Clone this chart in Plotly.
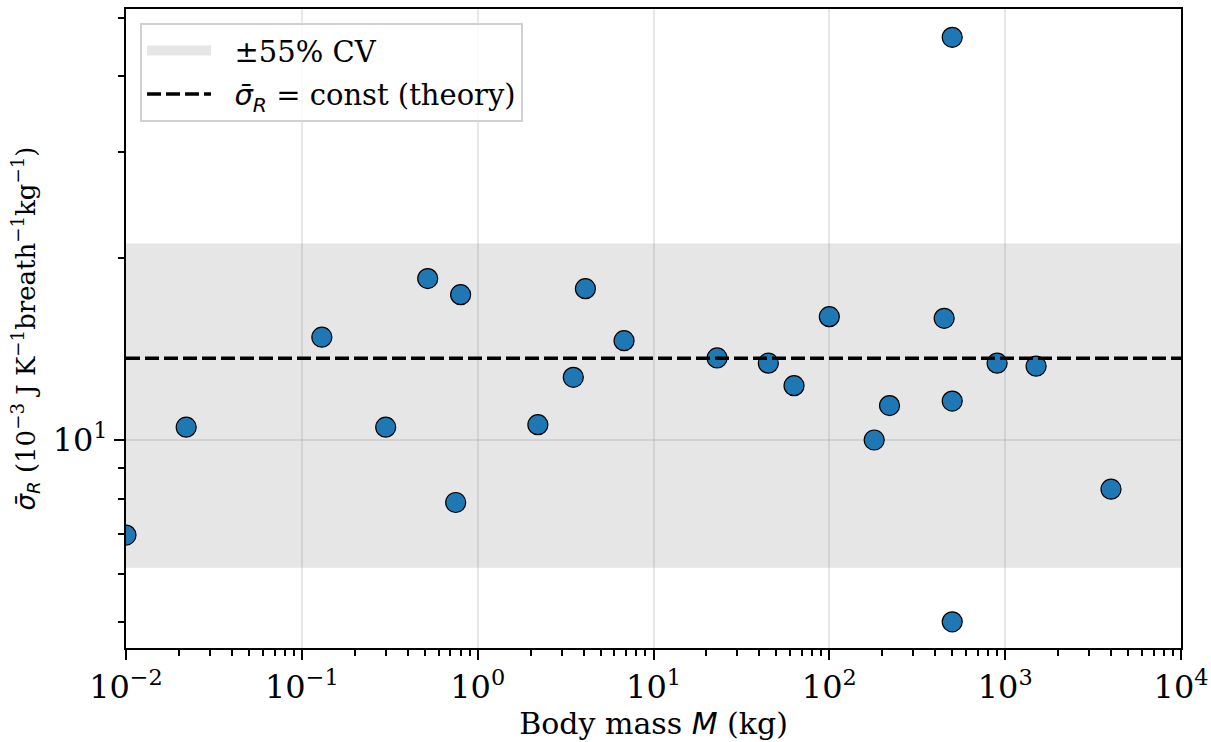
import math
import plotly.graph_objects as go

# ---- data ----
body_mass_kg = [0.01, 0.022, 0.13, 0.30, 0.52, 0.75, 0.80, 2.2, 3.5, 4.1, 6.8,
                23, 45, 63, 100, 180, 220, 450, 500, 500, 500, 900, 1500, 4000]
sigma_R = [6.96, 10.5, 14.8, 10.5, 18.5, 7.88, 17.4, 10.6, 12.7, 17.8, 14.6,
           13.67, 13.4, 12.3, 16.0, 10.0, 11.4, 15.9, 46.4, 11.6, 5.0, 13.4, 13.25, 8.29]
sigma_mean = 13.65
cv = 0.55
x_range = [0.01, 1e4]
y_range = [4.525, 51.7]

x_tickvals = [1e-2, 1e-1, 1e0, 1e1, 1e2, 1e3, 1e4]
x_ticktext = ["10<sup>−2</sup>", "10<sup>−1</sup>", "10<sup>0</sup>", "10<sup>1</sup>",
              "10<sup>2</sup>", "10<sup>3</sup>", "10<sup>4</sup>"]
y_tickvals = [10]
y_ticktext = ["10<sup>1</sup>"]
y_minor = [5, 6, 7, 8, 9, 20, 30, 40, 50]

SERIF = "DejaVu Serif"
MATH = "DejaVu Sans"

def m(s):
    return f'<span style="font-family:{MATH}"><i>{s}</i></span>'

sig = m("σ̄") + "<sub>" + m("R") + "</sub>"
PAD = "\u00a0\u00a0"

x_minor = []
for d in range(-2, 4):
    for k in range(2, 10):
        x_minor.append(k * 10 ** d)

BAND = "rgba(128,128,128,0.2)"

fig = go.Figure()

lo = sigma_mean * (1 - cv)
hi = sigma_mean * (1 + cv)
fig.add_trace(go.Scatter(
    x=[x_range[0], x_range[1], x_range[1], x_range[0], x_range[0]],
    y=[lo, lo, hi, hi, lo],
    fill="toself", fillcolor=BAND,
    line=dict(width=0), mode="lines",
    showlegend=False, hoverinfo="skip"))

# legend entry for the band
fig.add_trace(go.Scatter(
    x=[None], y=[None], mode="lines",
    line=dict(color=BAND, width=22),
    name=PAD + "±55% CV", legendgroup="a"))

fig.add_trace(go.Scatter(
    x=body_mass_kg, y=sigma_R, mode="markers",
    marker=dict(size=20, color="#1f77b4", line=dict(color="black", width=1.2)),
    showlegend=False))

fig.add_trace(go.Scatter(
    x=x_range, y=[sigma_mean, sigma_mean], mode="lines",
    line=dict(color="black", width=3.5, dash="14px,5px"),
    name=PAD + sig + " = const (theory)", legendgroup="b"))

fig.update_layout(
    width=1211, height=742,
    margin=dict(l=126, r=30, t=9, b=94, autoexpand=False),
    paper_bgcolor="white", plot_bgcolor="white",
    font=dict(family=SERIF, size=30, color="black"),
    showlegend=True,
    legend=dict(x=0.0133, y=0.978, xanchor="left", yanchor="top",
                bgcolor="rgba(255,255,255,0.8)", bordercolor="#d0d0d0", borderwidth=2,
                font=dict(family=SERIF, size=29), itemwidth=64,
                traceorder="grouped", tracegroupgap=3),
)

fig.update_xaxes(
    type="log", range=[-2, 4], automargin=False,
    tickvals=x_tickvals, ticktext=x_ticktext,
    ticks="outside", ticklen=10, tickwidth=2, tickcolor="black",
    showline=True, linecolor="black", linewidth=2, mirror=True,
    showgrid=True, gridcolor="rgba(176,176,176,0.3)", gridwidth=2,
    zeroline=False,
    tickfont=dict(family=SERIF, size=32),
    title=dict(text="Body mass " + m("M") + " (kg)", font=dict(family=SERIF, size=30), standoff=6),
    minor=dict(tickvals=x_minor, ticks="outside", ticklen=6, tickwidth=1.5,
               tickcolor="black", showgrid=False),
)
fig.update_yaxes(
    type="log", range=[math.log10(y_range[0]), math.log10(y_range[1])], automargin=False,
    tickvals=y_tickvals, ticktext=y_ticktext,
    ticks="outside", ticklen=10, tickwidth=2, tickcolor="black",
    showline=True, linecolor="black", linewidth=2, mirror=True,
    showgrid=True, gridcolor="rgba(176,176,176,0.3)", gridwidth=2,
    zeroline=False,
    tickfont=dict(family=SERIF, size=32),
    title=dict(text=sig + " (10<sup>−3</sup> J K<sup>−1</sup>breath<sup>−1</sup>kg<sup>−1</sup>)",
               font=dict(family=SERIF, size=26), standoff=10),
    minor=dict(tickvals=y_minor, ticks="outside", ticklen=6, tickwidth=1.5,
               tickcolor="black", showgrid=False),
)

fig.write_html("out.html", config={"displayModeBar": False},
               post_script="document.body.style.margin='0px';")
